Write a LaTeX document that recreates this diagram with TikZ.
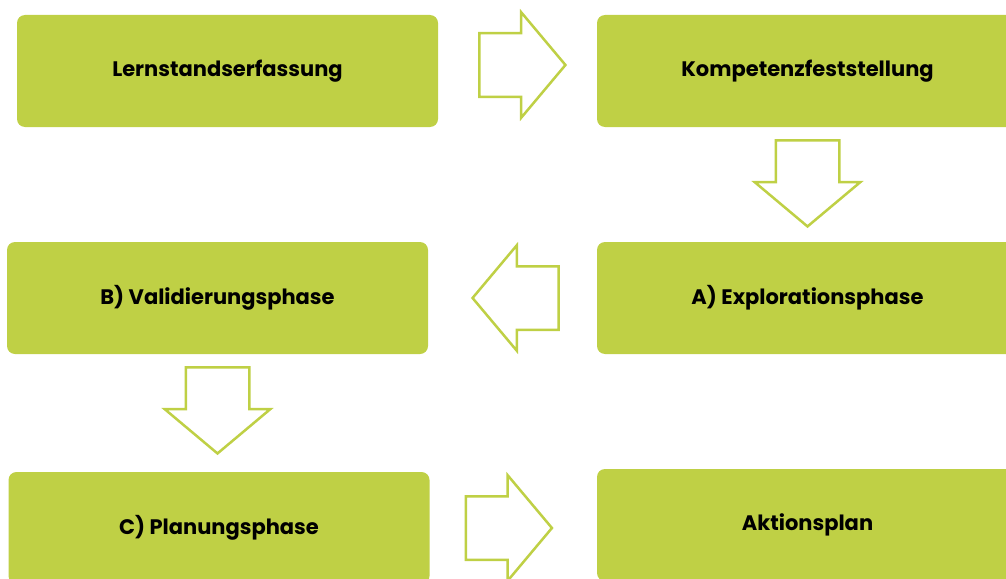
\documentclass[tikz,border=0pt]{standalone}
\usepackage{fontspec}
\setmainfont{Poppins}
\usetikzlibrary{calc,positioning,shapes.arrows}

\definecolor{lime}{RGB}{191,208,69}

\tikzset{
  phase/.style={fill=lime, rounded corners=8pt, minimum width=421pt, minimum height=112pt,
    font=\fontsize{21}{25}\selectfont\bfseries, text=black},
  blockarrow/.style={single arrow, draw=lime, fill=white, line width=2.5pt,
    minimum height=86pt, inner xsep=0pt, inner ysep=30.5pt, text height=0pt, text depth=0pt,
    single arrow head extend=21pt, single arrow tip angle=100, anchor=tail}
}

\begin{document}
\begin{tikzpicture}[x=1pt, y=-1pt]

    \useasboundingbox (0,0) rectangle (1006,578);
    \clip (0,0) rectangle (1006,578);

    % phases
    \node[phase] (lern)   at (227.5,71)  {Lernstandserfassung};
    \node[phase] (komp)   at (807.5,71)  {Kompetenzfeststellung};
    \node[phase] (explo)  at (807.5,298) {A) Explorationsphase};
    \node[phase] (vali)   at (217.5,298) {B) Validierungsphase};
    \node[phase] (plan)   at (219,528)   {C) Planungsphase};
    \node[phase] (aktion) at (807.5,525) {Aktionsplan};

    % arrows between them
    \node[blockarrow] (a1) at ([xshift=40pt, yshift=6pt]lern.east) {};
    \node[blockarrow, rotate=270] (a2) at ([yshift=-12pt]komp.south) {};
    \node[blockarrow, rotate=180] (a3) at ([xshift=-37pt]explo.west) {};
    \node[blockarrow, rotate=270] (a4) at ([yshift=-12pt]vali.south) {};
    \node[blockarrow] (a5) at ([xshift=35pt]plan.east) {};

\end{tikzpicture}
\end{document}
